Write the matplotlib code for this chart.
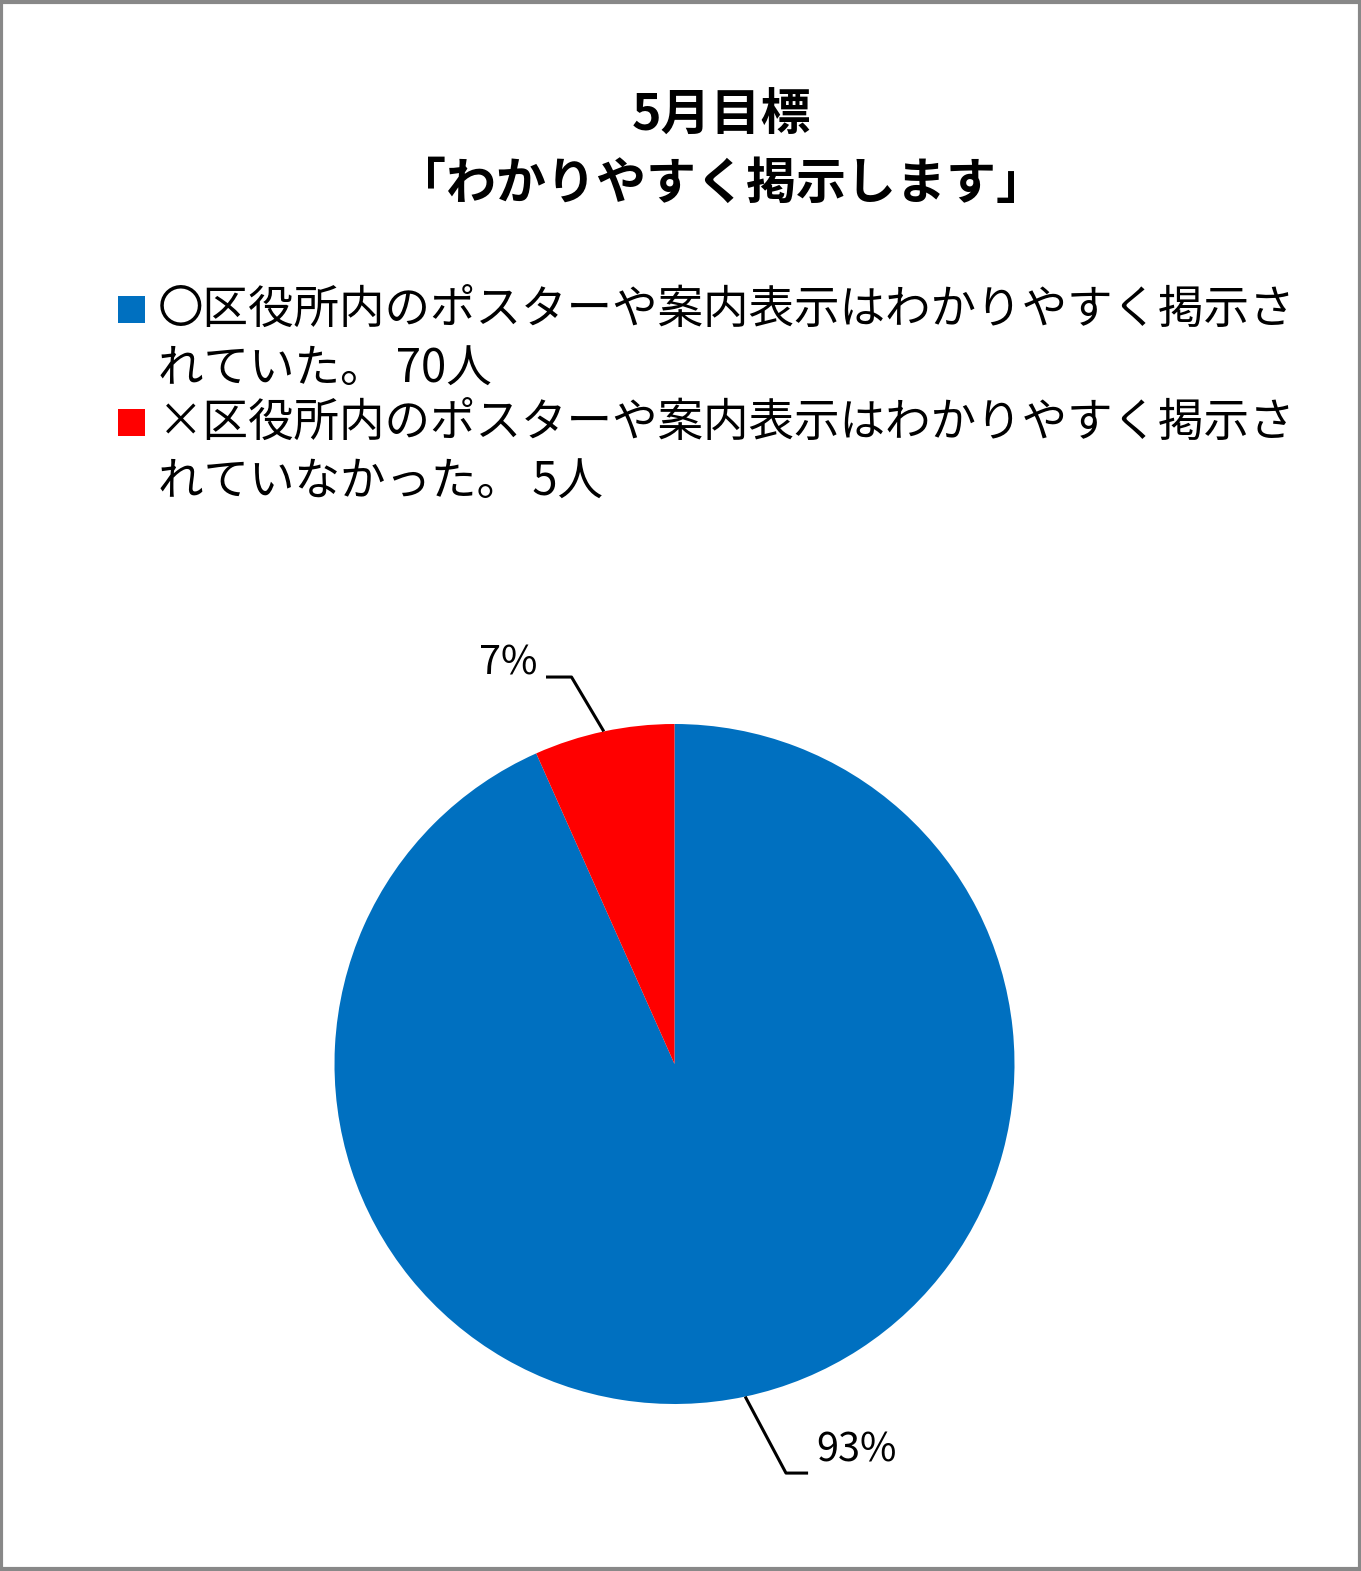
import matplotlib
matplotlib.use("Agg")
import matplotlib.pyplot as plt
from matplotlib.patches import Rectangle
import numpy as np

plt.rcParams['font.family'] = ['Noto Sans CJK JP', 'DejaVu Sans']

# Data
title_lines = ["5月目標", "「わかりやすく掲示します」"]
labels = ["〇区役所内のポスターや案内表示はわかりやすく掲示さ\nれていた。",
          "×区役所内のポスターや案内表示はわかりやすく掲示さ\nれていなかった。"]
counts = [70, 5]
colors = ["#0070C0", "#FF0000"]

W, H = 1361, 1571
fig = plt.figure(figsize=(W / 100, H / 100), dpi=100)

# Pie axes (center ~674,1064, radius 340 px)
r_px = 340
cx, cy = 674.5, 1064
ax = fig.add_axes([(cx - r_px) / W, (H - cy - r_px) / H, 2 * r_px / W, 2 * r_px / H])
wedges, _ = ax.pie(counts, colors=colors, startangle=90, counterclock=False,
                   radius=1.0, wedgeprops=dict(linewidth=0))
ax.set_xlim(-1, 1)
ax.set_ylim(-1, 1)
ax.set_aspect('equal')
ax.axis('off')

# Percentage labels with leader lines
total = sum(counts)
offsets = [(0.12, -0.225, 0.065, 0.065), (-0.095, 0.16, -0.075, 0.04)]  # elbow dx, dy, line length, text lift
for w, c, (dx, dy, hl, lift) in zip(wedges, counts, offsets):
    ang = np.deg2rad((w.theta1 + w.theta2) / 2)
    px, py = np.cos(ang), np.sin(ang)
    ex, ey = px + dx, py + dy
    ax.plot([px, ex, ex + hl], [py, ey, ey], color='black', lw=2.2,
            clip_on=False, solid_capstyle='butt')
    txt = f"{round(c / total * 100)}%"
    ha = 'left' if hl > 0 else 'right'
    ax.text(ex + hl + (0.025 if hl > 0 else -0.025), ey + lift, txt, ha=ha, va='center',
            fontsize=28.5, clip_on=False)

# Title
for i, line in enumerate(title_lines):
    fig.text(721 / W, 1 - (116 + 68 * i) / H, line, ha='center', va='center',
             fontsize=36, fontweight='bold')

# Legend (manual)
entry_y = [310, 423]
for lab, cnt, col, y0 in zip(labels, counts, colors, entry_y):
    fig.patches.append(Rectangle((118 / W, 1 - (y0 + 13) / H), 27 / W, 27 / H,
                                 transform=fig.transFigure, facecolor=col,
                                 edgecolor='none'))
    lines = (lab + f" {cnt}人").split("\n")
    for j, ln in enumerate(lines):
        fig.text(158 / W, 1 - (y0 + 60 * j) / H, ln, ha='left', va='center',
                 fontsize=32.8)

# Outer border
fig.patches.append(Rectangle((0.001, 0.001), 0.998, 0.998, transform=fig.transFigure,
                             fill=False, edgecolor='#888888', linewidth=3))

fig.savefig("out.png", dpi=100, facecolor='white')
